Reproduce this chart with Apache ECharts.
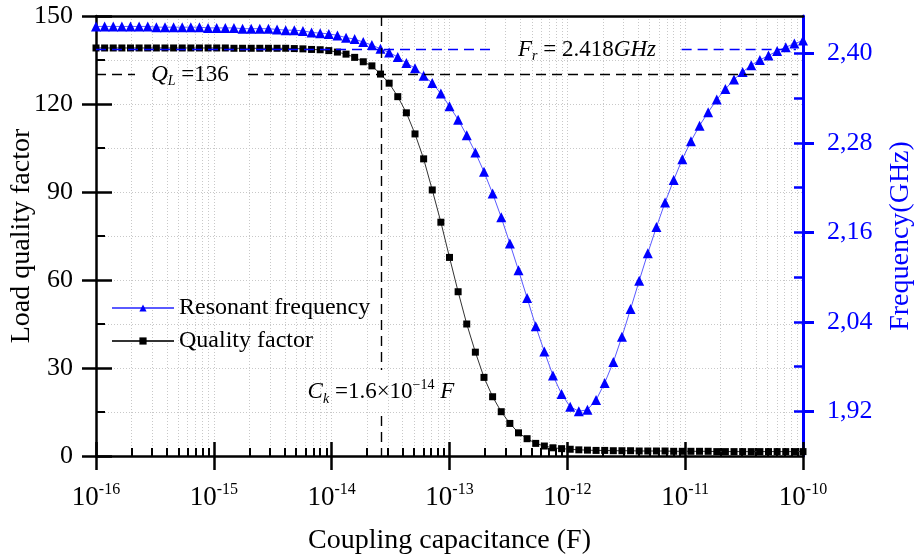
<!DOCTYPE html>
<html>
<head>
<meta charset="utf-8">
<script src="https://cdn.jsdelivr.net/npm/echarts@6/dist/echarts.min.js"></script>
<style>
  html, body { margin: 0; padding: 0; background: #fff; }
  #chart { width: 914px; height: 558px; }
</style>
</head>
<body>
<div id="chart"></div>
<script>
// sweep of coupling capacitance, log spaced from 1e-16 to 1e-10 F
const capStartExp = -16
const capEndExp = -10

// load quality factor (left axis)
const qualityFactor = [
  139.1,139.1,139.1,139.1,139.1,139.1,139.1,139.1,139.1,139.1,
  139.1,139.1,139.1,139.1,139.1,139.1,139.0,139.0,139.0,139.0,
  139.0,139.0,139.0,138.9,138.8,138.6,138.5,138.2,137.7,137.0,
  135.9,134.4,133.0,130.2,127.1,122.5,117.0,109.8,101.3,90.7,
  79.7,67.7,56.0,45.0,35.4,26.8,20.2,15.1,11.1,7.9,
  5.9,4.3,3.4,2.8,2.5,2.3,2.1,2.0,1.9,1.9,
  1.8,1.8,1.8,1.7,1.7,1.7,1.7,1.6,1.6,1.6,
  1.6,1.6,1.5,1.5,1.5,1.5,1.5,1.5,1.5,1.5,
  1.5,1.5,1.5
]

// resonant frequency in GHz (right axis)
const resonantFreq = [
  2.436,2.436,2.436,2.436,2.436,2.436,2.436,2.435,2.435,2.435,
  2.435,2.435,2.435,2.434,2.434,2.434,2.434,2.433,2.433,2.433,
  2.433,2.432,2.431,2.431,2.430,2.428,2.427,2.426,2.424,2.421,
  2.419,2.415,2.411,2.406,2.401,2.395,2.387,2.380,2.370,2.360,
  2.346,2.329,2.311,2.290,2.267,2.241,2.212,2.180,2.145,2.109,
  2.072,2.034,2.000,1.968,1.943,1.926,1.920,1.922,1.935,1.958,
  1.986,2.020,2.057,2.095,2.132,2.167,2.200,2.230,2.258,2.282,
  2.303,2.321,2.338,2.352,2.365,2.375,2.384,2.391,2.397,2.403,
  2.408,2.413,2.417
]

const decades = [-16, -15, -14, -13, -12, -11, -10]
const freqTicks = [1.92, 2.04, 2.16, 2.28, 2.40]
const freqMinorTicks = [1.98, 2.10, 2.22, 2.34]

// reference lines / annotations (positions)
const ckCap = 2.62e-14
const qLine = 130
const frLine = 2.405

const n = qualityFactor.length
const capacitance = qualityFactor.map((_, i) => Math.pow(10, capStartExp + (capEndExp - capStartExp) * i / (n - 1)))
const lg = v => Math.log10(v)

const qData = capacitance.map((c, i) => [lg(c), qualityFactor[i]])
const fData = capacitance.map((c, i) => [lg(c), resonantFreq[i]])

// minor log ticks 2..9 in every decade
const minorLog = []
decades.slice(0, -1).forEach(d => {
  for (let k = 2; k <= 9; k++) minorLog.push(d + Math.log10(k))
})

const FONT = '"Liberation Serif", "Times New Roman", serif'
const dotted = { show: true, lineStyle: { color: '#c8c8c8', type: [1, 2], width: 1 } }
const dashed = (color) => ({ color: color, width: 1.4, type: [10, 6] })

const chart = echarts.init(document.getElementById('chart'))

const baseX = { type: 'value', min: capStartExp, max: capEndExp, interval: 1 }
const leftY = { type: 'value', min: 0, max: 150, interval: 30, position: 'left' }
const rightY = { type: 'value', min: 1.86, max: 2.45, position: 'right' }

const annRich = {
  i: { fontFamily: FONT, fontStyle: 'italic', fontSize: 23, color: '#000', lineHeight: 28 },
  n: { fontFamily: FONT, fontSize: 23, color: '#000', lineHeight: 28 },
  sub: { fontFamily: FONT, fontStyle: 'italic', fontSize: 14, color: '#000', lineHeight: 14, verticalAlign: 'bottom' },
  sup: { fontFamily: FONT, fontSize: 14, color: '#000', lineHeight: 14, verticalAlign: 'top' }
}

const option = {
  animation: false,
  backgroundColor: '#fff',
  textStyle: { fontFamily: FONT },
  grid: { left: 96, right: 111, top: 16, bottom: 102, containLabel: false, outerBoundsMode: 'none' },
  legend: {
    orient: 'vertical',
    left: 106,
    top: 291,
    itemWidth: 62,
    itemHeight: 9,
    itemGap: 9,
    textStyle: { fontFamily: FONT, fontSize: 24, color: '#000' },
    data: ['Resonant frequency', 'Quality factor']
  },
  xAxis: [
    Object.assign({}, baseX, {
      position: 'bottom',
      name: 'Coupling capacitance (F)',
      nameLocation: 'middle',
      nameGap: 71,
      nameMoveOverlap: false,
      nameTextStyle: { fontFamily: FONT, fontSize: 28, color: '#000' },
      axisLine: { lineStyle: { color: '#000', width: 2.5 } },
      axisTick: { show: true, inside: false, length: 14, lineStyle: { color: '#000', width: 2.5 } },
      axisLabel: {
        margin: 26,
        formatter: v => '{b|10}{s|' + v + '}',
        rich: {
          b: { fontFamily: FONT, fontSize: 27, color: '#000', lineHeight: 32 },
          s: { fontFamily: FONT, fontSize: 16, color: '#000', lineHeight: 16, verticalAlign: 'top' }
        }
      },
      splitLine: dotted
    }),
    Object.assign({}, baseX, {
      position: 'bottom',
      axisLine: { show: false },
      axisTick: { show: true, inside: true, length: 14, lineStyle: { color: '#000', width: 2.5 } },
      axisLabel: { show: false },
      splitLine: { show: false }
    }),
    Object.assign({}, baseX, {
      position: 'bottom',
      axisLine: { show: false },
      axisTick: { show: true, inside: true, length: 8, customValues: minorLog, lineStyle: { color: '#000', width: 2 } },
      axisLabel: { show: false },
      splitLine: dotted
    }),
    Object.assign({}, baseX, {
      position: 'top',
      axisLine: { lineStyle: { color: '#000', width: 2.5 } },
      axisTick: { show: false },
      axisLabel: { show: false },
      splitLine: { show: false }
    })
  ],
  yAxis: [
    Object.assign({}, leftY, {
      name: 'Load quality factor',
      nameLocation: 'middle',
      nameGap: 60,
      nameMoveOverlap: false,
      nameTextStyle: { fontFamily: FONT, fontSize: 28, color: '#000' },
      axisLine: { show: true, lineStyle: { color: '#000', width: 2.5 } },
      axisTick: { show: true, inside: false, length: 14, lineStyle: { color: '#000', width: 2.5 } },
      axisLabel: { margin: 23, fontFamily: FONT, fontSize: 26, color: '#000' },
      splitLine: dotted
    }),
    Object.assign({}, leftY, {
      axisLine: { show: false },
      axisTick: { show: true, inside: true, length: 16, lineStyle: { color: '#000', width: 2.5 } },
      minorTick: { show: true, splitNumber: 2, length: 9, lineStyle: { color: '#000', width: 2 } },
      minorSplitLine: dotted,
      axisLabel: { show: false },
      splitLine: { show: false }
    }),
    Object.assign({}, rightY, {
      name: 'Frequency(GHz)',
      nameLocation: 'middle',
      nameGap: 84,
      nameMoveOverlap: false,
      nameTextStyle: { fontFamily: FONT, fontSize: 28, color: '#0000ff' },
      axisLine: { show: true, lineStyle: { color: '#0000ff', width: 3 } },
      axisTick: { show: true, inside: false, length: 11, customValues: freqTicks, lineStyle: { color: '#0000ff', width: 3 } },
      axisLabel: {
        margin: 24, customValues: freqTicks, fontFamily: FONT, fontSize: 26, color: '#0000ff',
        formatter: v => v.toFixed(2).replace('.', ',')
      },
      splitLine: { show: false }
    }),
    Object.assign({}, rightY, {
      axisLine: { show: false },
      axisTick: { show: true, inside: true, length: 9, customValues: freqTicks.concat(freqMinorTicks), lineStyle: { color: '#0000ff', width: 2.5 } },
      axisLabel: { show: false },
      splitLine: { show: false }
    })
  ],
  series: [
    {
      name: 'Resonant frequency',
      type: 'line',
      xAxisIndex: 0,
      yAxisIndex: 2,
      data: fData,
      symbol: 'triangle',
      symbolSize: 10,
      showAllSymbol: true,
      itemStyle: { color: '#0000ff' },
      lineStyle: { color: '#5a5aff', width: 1 },
      z: 4,
      markLine: {
        silent: true, symbol: ['none', 'none'], label: { show: false },
        lineStyle: dashed('#0000ff'),
        data: [
          [{ coord: [-16, frLine] }, { coord: [-12.614, frLine] }],
          [{ coord: [-11.03, frLine] }, { coord: [-10.06, frLine] }]
        ]
      },
      markPoint: {
        silent: true, symbol: 'circle', symbolSize: 0,
        label: {
          show: true, position: 'inside',
          formatter: '{i|F}{sub|r}{n| = 2.418}{i|GHz}',
          rich: annRich
        },
        data: [{ coord: [-11.833, frLine] }]
      }
    },
    {
      name: 'Quality factor',
      type: 'line',
      xAxisIndex: 0,
      yAxisIndex: 0,
      data: qData,
      symbol: 'rect',
      symbolSize: 7,
      showAllSymbol: true,
      itemStyle: { color: '#000' },
      lineStyle: { color: '#333', width: 1 },
      z: 3,
      markLine: {
        silent: true, symbol: ['none', 'none'], label: { show: false },
        lineStyle: dashed('#000'),
        data: [
          [{ coord: [-16, qLine] }, { coord: [-15.669, qLine] }],
          [{ coord: [-14.71, qLine] }, { coord: [-10.04, qLine] }],
          [{ coord: [lg(ckCap), 150] }, { coord: [lg(ckCap), 29.3] }],
          [{ coord: [lg(ckCap), 13.6] }, { coord: [lg(ckCap), 0] }]
        ]
      },
      markPoint: {
        silent: true, symbol: 'circle', symbolSize: 0,
        label: { show: true, position: 'inside', rich: annRich },
        data: [
          { coord: [-15.202, qLine], label: { formatter: '{i|Q}{sub|L}{n| =136}' } },
          { coord: [lg(ckCap), 21.8], label: { formatter: '{i|C}{sub|k}{n| =1.6×10}{sup|−14}{i| F}' } }
        ]
      }
    }
  ]
}

chart.setOption(option)
</script>
</body>
</html>
